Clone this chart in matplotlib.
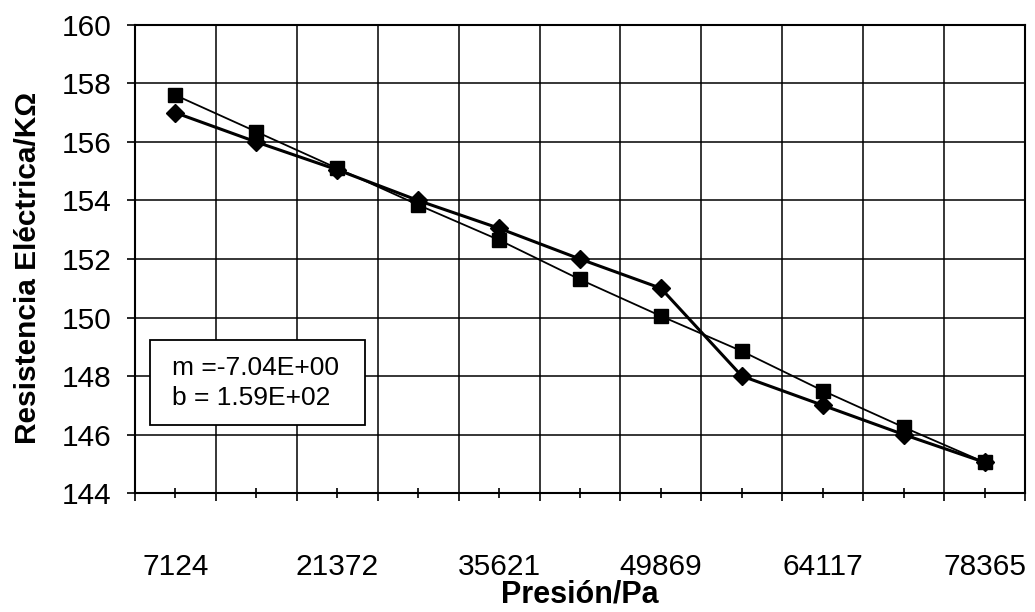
import matplotlib
matplotlib.use("Agg")
from matplotlib import pyplot as plt
from matplotlib.patches import Rectangle
from matplotlib.ticker import FixedLocator, FixedFormatter

# data
presion = [7124, 14248, 21372, 28496, 35621, 42745, 49869, 56993, 64117, 71241, 78365]
resist_rombo = [157.0, 156.0, 155.05, 154.0, 153.05, 152.0, 151.0, 148.0, 147.0, 146.0, 145.05]
resist_cuadro = [157.6, 156.35, 155.1, 153.85, 152.65, 151.3, 150.05, 148.85, 147.5, 146.25, 145.05]
y_ticks = [144, 146, 148, 150, 152, 154, 156, 158, 160]
ajuste_m = "-7.04E+00"
ajuste_b = "1.59E+02"

plt.rcParams['font.family'] = ['Liberation Sans', 'DejaVu Sans']

fig = plt.figure(figsize=(10.35, 6.12), dpi=100)
ax = fig.add_axes([0.1304, 0.1944, 0.8599, 0.7648])

idx = list(range(len(presion)))
ax.plot(idx, resist_cuadro, color='black', lw=1.3, marker='s', markersize=10, zorder=3)
ax.plot(idx, resist_rombo, color='black', lw=2.2, marker='D', markersize=9, zorder=4)

ax.set_xlim(-0.5, len(presion) - 0.5)
ax.set_ylim(144, 160)

# category boundaries carry the gridlines, centres carry the labels
bordes = [i - 0.5 for i in range(len(presion) + 1)]
ax.xaxis.set_major_locator(FixedLocator(bordes))
ax.xaxis.set_major_formatter(FixedFormatter([''] * len(bordes)))
ax.xaxis.set_minor_locator(FixedLocator(idx))
ax.xaxis.set_minor_formatter(FixedFormatter([str(p) if i % 2 == 0 else '' for i, p in enumerate(presion)]))
ax.tick_params(axis='x', which='major', direction='out', length=6, width=1.2, color='black')
ax.tick_params(axis='x', which='minor', direction='inout', length=7, width=1.2, labelsize=21.5, pad=40)

ax.set_yticks(y_ticks)
ax.tick_params(axis='y', direction='out', length=6, width=1.2, labelsize=21.5, pad=11)

ax.grid(True, which='major', color='black', lw=1.1)
ax.set_axisbelow(True)
for s in ax.spines.values():
    s.set_linewidth(1.5)

ax.set_xlabel("Presión/Pa", fontsize=22, fontweight='bold')
ax.xaxis.set_label_coords(0.5, -0.185)
ax.set_ylabel("Resistencia Eléctrica/KΩ", fontsize=21.5, fontweight='bold')
ax.yaxis.set_label_coords(-0.105, 0.48)

# box with the fit parameters
ax.add_patch(Rectangle((0.017, 0.145), 0.241, 0.182, transform=ax.transAxes,
                       facecolor='white', edgecolor='black', lw=1.3, zorder=5))
ax.text(0.0415, 0.267, "m =" + ajuste_m, transform=ax.transAxes, fontsize=19,
        va='center', ha='left', zorder=6)
ax.text(0.0415, 0.203, "b = " + ajuste_b, transform=ax.transAxes, fontsize=19,
        va='center', ha='left', zorder=6)

plt.savefig('out.png', dpi=100)
